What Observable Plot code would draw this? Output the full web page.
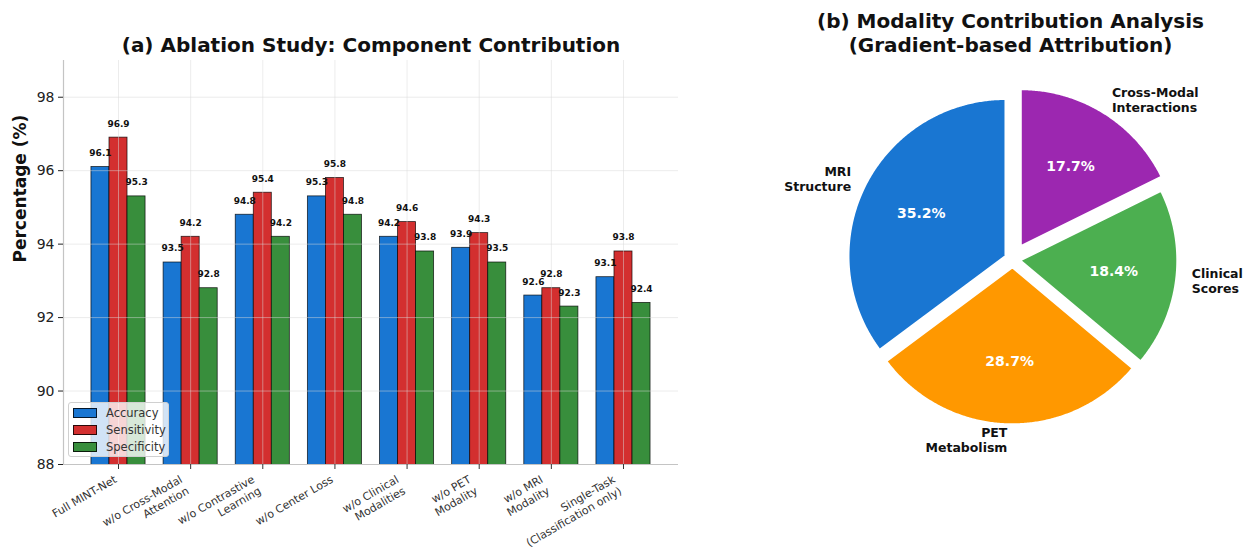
<!DOCTYPE html>
<html><head><meta charset="utf-8">
<script src="https://cdn.jsdelivr.net/npm/d3@7"></script>
<script src="https://cdn.jsdelivr.net/npm/@observablehq/plot@0.6"></script>
<style>
html,body{margin:0;padding:0;background:#fff;overflow:hidden}
#fig{position:relative;width:1255px;height:549px;font-family:"DejaVu Sans",sans-serif}
#bar{position:absolute;left:0;top:0}
#pie{position:absolute;left:765px;top:0}
#legend{position:absolute;left:68px;top:402px;width:101px;height:55px;border:1px solid #d0d0d0;border-radius:3px;background:rgba(255,255,255,0.8);box-sizing:border-box}
.lrow{position:absolute;left:0;height:17px;width:100%}
.lpatch{position:absolute;left:4px;width:24px;height:10px;box-sizing:border-box;border:1px solid rgba(0,0,0,0.8)}
.ltext{position:absolute;left:37px;font-size:11.5px;color:#333;line-height:14px;white-space:nowrap}
</style></head><body>
<div id="fig"><div id="bar"></div><div id="pie"></div><div id="legend"></div></div>
<script>
// ---- data: ablation study ----
const categories = [
  "Full MINT-Net",
  "w/o Cross-Modal\nAttention",
  "w/o Contrastive\nLearning",
  "w/o Center Loss",
  "w/o Clinical\nModalities",
  "w/o PET\nModality",
  "w/o MRI\nModality",
  "Single-Task\n(Classification only)"
];
const metrics = ["Accuracy", "Sensitivity", "Specificity"];
const accuracy    = [96.1, 93.5, 94.8, 95.3, 94.2, 93.9, 92.6, 93.1];
const sensitivity = [96.9, 94.2, 95.4, 95.8, 94.6, 94.3, 92.8, 93.8];
const specificity = [95.3, 92.8, 94.2, 94.8, 93.8, 93.5, 92.3, 92.4];
const metricColors = ["#1976D2", "#D32F2F", "#388E3C"];
const yTicks = [88, 90, 92, 94, 96, 98];
const yDomain = [88, 99];

// ---- data: modality contribution ----
const pieLabels = ["MRI\nStructure", "PET\nMetabolism", "Clinical\nScores", "Cross-Modal\nInteractions"];
const pieValues = [35.2, 28.7, 18.4, 17.7];
const pieColors = ["#1976D2", "#FF9800", "#4CAF50", "#9C27B0"];
const pieExplode = [0.05, 0.05, 0.05, 0.1];

// ---- bar chart ----
const series = [accuracy, sensitivity, specificity];
const barW = 0.25;
const bars = [];
categories.forEach((c, i) => {
  series.forEach((vals, k) => {
    const xc = i + (k - 1) * barW;
    bars.push({cat: c, i, metric: metrics[k], value: vals[i], xc, x1: xc - barW / 2, x2: xc + barW / 2});
  });
});
const xMin = d3.min(bars, d => d.x1), xMax = d3.max(bars, d => d.x2);
const xPad = (xMax - xMin) * 0.05;
const xDomain = [xMin - xPad, xMax + xPad];
const catData = categories.map((label, i) => ({i, label, lines: label.split("\n").length}));

const tickFont = 11, tickLH = 1.2, sin30 = Math.sin(Math.PI / 6);
const labelMarks = d3.groups(catData, d => d.lines).map(([n, rows]) =>
  Plot.text(rows, {x: "i", y: yDomain[0], text: "label", rotate: -30, textAnchor: "end", lineAnchor: "top",
    lineHeight: tickLH, fontSize: tickFont, fill: "#333", dy: 9, dx: -(n * tickLH * tickFont) * sin30 + 1})
);

const barPlot = Plot.plot({
  width: 700, height: 549,
  marginLeft: 63, marginRight: 22, marginTop: 60, marginBottom: 85,
  style: {fontFamily: "DejaVu Sans", background: "transparent", overflow: "visible"},
  x: {domain: xDomain, axis: null},
  y: {domain: yDomain, axis: null},
  color: {domain: metrics, range: metricColors},
  marks: [
    Plot.rectY(bars, {x1: "x1", x2: "x2", y1: 0, y2: "value", fill: "metric", stroke: "black", strokeOpacity: 0.8, strokeWidth: 0.8, clip: true}),
    Plot.gridY(yTicks, {stroke: "#d8d8d8", strokeOpacity: 0.55, strokeWidth: 0.9}),
    Plot.gridX(d3.range(categories.length), {stroke: "#d8d8d8", strokeOpacity: 0.55, strokeWidth: 0.9}),
    Plot.ruleX([xDomain[0]], {stroke: "#c4c4c4", strokeWidth: 1.2}),
    Plot.ruleY([yDomain[0]], {stroke: "#c4c4c4", strokeWidth: 1.2}),
    Plot.axisY(yTicks, {tickSize: 5, tickPadding: 4, fontSize: 14, color: "#222", label: null}),
    Plot.axisX(d3.range(categories.length), {tickSize: 5, tickFormat: () => "", color: "#333", label: null}),
    ...labelMarks,
    Plot.text(bars, {x: "xc", y: d => d.value + 0.3, text: d => d.value.toFixed(1), lineAnchor: "bottom", fontWeight: "bold", fontSize: 9, fill: "#111"}),
    Plot.text(["Percentage (%)"], {frameAnchor: "left", rotate: -90, dx: -43, fontSize: 17, fontWeight: "bold", fill: "#111"}),
    Plot.text(["(a) Ablation Study: Component Contribution"], {frameAnchor: "top", dy: -9, lineAnchor: "bottom", fontSize: 20, fontWeight: "bold", fill: "#111"})
  ]
});
document.getElementById("bar").append(barPlot);

// legend
const legend = document.getElementById("legend");
metrics.forEach((m, k) => {
  const row = document.createElement("div");
  row.className = "lrow";
  row.style.top = (2 + k * 17) + "px";
  const p = document.createElement("div");
  p.className = "lpatch";
  p.style.top = "3px";
  p.style.background = metricColors[k];
  const t = document.createElement("div");
  t.className = "ltext";
  t.style.top = "1px";
  t.textContent = m;
  row.append(p, t);
  legend.append(row);
});

// ---- pie chart ----
const pieW = 490, pieH = 549;
const R = 157;               // pixel radius
const cx = 247, cy = 259;    // pixel centre within pie svg
const total = d3.sum(pieValues);
const wedgePts = [], pctPts = [], lblPts = [];
let a = 90;
pieValues.forEach((v, k) => {
  const span = v / total * 360;
  const a0 = a, a1 = a + span, am = (a0 + a1) / 2;
  const rad = am * Math.PI / 180;
  const ox = pieExplode[k] * Math.cos(rad), oy = pieExplode[k] * Math.sin(rad);
  wedgePts.push({slice: pieLabels[k], x: ox, y: oy});
  const steps = Math.ceil(span / 0.5);
  for (let s = 0; s <= steps; s++) {
    const t = (a0 + (a1 - a0) * s / steps) * Math.PI / 180;
    wedgePts.push({slice: pieLabels[k], x: ox + Math.cos(t), y: oy + Math.sin(t)});
  }
  pctPts.push({x: ox + 0.6 * Math.cos(rad), y: oy + 0.6 * Math.sin(rad), text: v.toFixed(1) + "%"});
  lblPts.push({x: ox + 1.1 * Math.cos(rad), y: oy + 1.1 * Math.sin(rad), text: pieLabels[k]});
  a = a1;
});

const piePlot = Plot.plot({
  width: pieW, height: pieH,
  margin: 0,
  style: {fontFamily: "DejaVu Sans", background: "transparent", overflow: "visible"},
  x: {domain: [(0 - cx) / R, (pieW - cx) / R], axis: null},
  y: {domain: [(cy - pieH) / R, cy / R], axis: null},
  color: {domain: pieLabels, range: pieColors},
  marks: [
    Plot.line(wedgePts, {x: "x", y: "y", z: "slice", fill: "slice", stroke: "white", strokeWidth: 2, curve: "linear-closed"}),
    Plot.text(pctPts, {x: "x", y: "y", text: "text", fill: "white", fontWeight: "bold", fontSize: 14}),
    Plot.text(lblPts.filter(d => d.x < 0), {x: "x", y: "y", text: "text", textAnchor: "end", lineAnchor: "middle", lineHeight: 1.2, fontWeight: "bold", fontSize: 12.5, fill: "#111"}),
    Plot.text(lblPts.filter(d => d.x >= 0), {x: "x", y: "y", text: "text", textAnchor: "start", lineAnchor: "middle", lineHeight: 1.2, fontWeight: "bold", fontSize: 12.5, fill: "#111"}),
    Plot.text(["(b) Modality Contribution Analysis\n(Gradient-based Attribution)"], {frameAnchor: "top", dy: 51, lineAnchor: "bottom", lineHeight: 1.17, fontSize: 20, fontWeight: "bold", fill: "#111"})
  ]
});
document.getElementById("pie").append(piePlot);
</script>
</body></html>
